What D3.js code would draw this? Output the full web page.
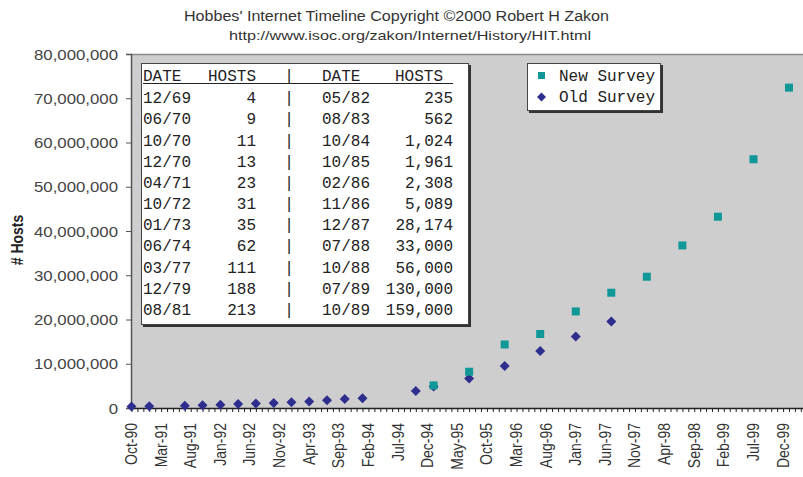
<!DOCTYPE html>
<html><head><meta charset="utf-8">
<script src="https://cdn.jsdelivr.net/npm/d3@7"></script>
<style>body{margin:0;background:#fff}svg{display:block}</style>
</head><body>
<svg id="c" width="803" height="477"></svg>
<script>
// ---- data ----
const titleLines = ["Hobbes' Internet Timeline Copyright \u00A92000 Robert H Zakon", "http://www.isoc.org/zakon/Internet/History/HIT.html"];
const yAxisTitle = "# Hosts";
const seriesNames = ["New Survey", "Old Survey"];
const newDates = ["1995-01","1995-07","1996-01","1996-07","1997-01","1997-07","1998-01","1998-07","1999-01","1999-07","2000-01"];
const newHosts = [5100000,8200000,14352000,16729000,21819000,26053000,29670000,36739000,43230000,56218000,72398000];
const oldDates = ["1990-10","1991-01","1991-07","1991-10","1992-01","1992-04","1992-07","1992-10","1993-01","1993-04","1993-07","1993-10","1994-01","1994-10","1995-01","1995-07","1996-01","1996-07","1997-01","1997-07"];
const oldHosts = [313000,376000,535000,617000,727000,890000,992000,1136000,1313000,1486000,1776000,2056000,2217000,3864000,4852000,6642000,9472000,12881000,16146000,19540000];
const yTicks = [0,10000000,20000000,30000000,40000000,50000000,60000000,70000000,80000000];
const monthNames = ["Jan","Feb","Mar","Apr","May","Jun","Jul","Aug","Sep","Oct","Nov","Dec"];
const tableHeader = ["DATE","HOSTS","|","DATE","HOSTS"];
const tableDates1 = ["12/69","06/70","10/70","12/70","04/71","10/72","01/73","06/74","03/77","12/79","08/81"];
const tableHosts1 = ["4","9","11","13","23","31","35","62","111","188","213"];
const tableDates2 = ["05/82","08/83","10/84","10/85","02/86","11/86","12/87","07/88","10/88","07/89","10/89"];
const tableHosts2 = ["235","562","1,024","1,961","2,308","5,089","28,174","33,000","56,000","130,000","159,000"];

// ---- helpers ----
const monthIndex = s => { const [y,m] = s.split("-").map(Number); return (y-1990)*12 + (m-10); };
const monthLabel = i => { const t = 9 + i; return monthNames[t % 12] + "-" + String((1990 + Math.floor(t/12)) % 100).padStart(2,"0"); };

const svg = d3.select("#c");
const SANS = "'Liberation Sans', Arial, sans-serif";
const MONO = "'Liberation Mono', 'Courier New', monospace";
const TEAL = "#109898", NAVY = "#2e2e8e";

const x = d3.scaleLinear().domain([0,111]).range([131.5,789]);
const y = d3.scaleLinear().domain([0,80000000]).range([408,54]);

// plot background
svg.append("rect").attr("x",131).attr("y",54).attr("width",680).attr("height",354).attr("fill","#cecece");
svg.append("line").attr("x1",131).attr("x2",803).attr("y1",54.5).attr("y2",54.5).attr("stroke","#8a8a8a").attr("stroke-width",1.5);

// title
titleLines.forEach((t,i) => {
  svg.append("text").attr("x", i===0?184:229).attr("y", i===0?21:39.5)
    .attr("textLength", i===0?425:362).attr("lengthAdjust","spacingAndGlyphs")
    .attr("font-family",SANS).attr("font-size", i===0?14:13).attr("fill","#333").text(t);
});

// y axis
const yAxis = svg.append("g").attr("transform","translate(131,0)")
  .call(d3.axisLeft(y).tickValues(yTicks).tickSize(5).tickFormat(d3.format(",")));
yAxis.select(".domain").attr("stroke","#555").attr("stroke-width",1.5);
yAxis.selectAll(".tick line").attr("stroke","#555");
yAxis.selectAll(".tick text").attr("x",null).attr("dy",null)
  .attr("font-family",SANS).attr("font-size",14).attr("fill","#444")
  .attr("text-anchor","end")
  .attr("transform","translate(-13,5) scale(1.2,1)");

svg.append("text").attr("transform","translate(23,240) scale(1.2,1) rotate(-90)")
  .attr("text-anchor","middle").attr("font-family",SANS).attr("font-weight","bold")
  .attr("font-size",14).attr("fill","#222").text(yAxisTitle);

// x axis (monthly ticks, labels every 5 months)
const xMinor = svg.append("g").attr("transform","translate(0,408)")
  .call(d3.axisBottom(x).tickValues(d3.range(0,114)).tickSize(4).tickFormat(""));
xMinor.select(".domain").remove();
xMinor.selectAll(".tick line").attr("stroke","#222");
svg.append("line").attr("x1",131).attr("x2",803).attr("y1",408.5).attr("y2",408.5).attr("stroke","#222").attr("stroke-width",1.5);
const xMajor = svg.append("g").attr("transform","translate(0,408)")
  .call(d3.axisBottom(x).tickValues(d3.range(0,111,5)).tickSize(0).tickFormat(monthLabel));
xMajor.select(".domain").remove();
xMajor.selectAll(".tick text").attr("y",null).attr("dy",null)
  .attr("font-family",SANS).attr("font-size",14).attr("fill","#333")
  .attr("text-anchor","end")
  .attr("transform","translate(5,15) scale(1.2,1) rotate(-90)");

// markers
const newPts = newDates.map((d,i)=>({x:monthIndex(d), v:newHosts[i]}));
const oldPts = oldDates.map((d,i)=>({x:monthIndex(d), v:oldHosts[i]}));
svg.append("g").selectAll("path").data(oldPts).join("path")
  .attr("transform",d=>`translate(${x(d.x)},${y(d.v)})`)
  .attr("d","M0,-5L5,0L0,5L-5,0Z").attr("fill",NAVY);
svg.append("g").selectAll("rect").data(newPts).join("rect")
  .attr("x",d=>x(d.x)-4).attr("y",d=>y(d.v)-4).attr("width",8).attr("height",8).attr("fill",TEAL);

// table box
svg.append("rect").attr("x",143).attr("y",65).attr("width",328).attr("height",262).attr("fill","#333");
svg.append("rect").attr("x",141.5).attr("y",63.5).attr("width",327).attr("height",261).attr("fill","#fff").attr("stroke","#444");
const tbl = svg.append("g").attr("font-family",MONO).attr("font-size",16).attr("fill","#222");
const colX = [143,256,289,322,453];
const colAnchor = ["start","end","middle","start","end"];
tableHeader.forEach((h,i)=>{
  tbl.append("text").attr("x", i===4?443:colX[i]).attr("y",81).attr("text-anchor",colAnchor[i]).text(h);
});
svg.append("line").attr("x1",143).attr("x2",453).attr("y1",83.5).attr("y2",83.5).attr("stroke","#222");
tableDates1.forEach((d,r)=>{
  const yy = 103.3 + r*21.17;
  const row = [d, tableHosts1[r], "|", tableDates2[r], tableHosts2[r]];
  row.forEach((t,i)=> tbl.append("text").attr("x",colX[i]).attr("y",yy).attr("text-anchor",colAnchor[i]).text(t));
});

// legend
svg.append("rect").attr("x",529).attr("y",65).attr("width",134).attr("height",48).attr("fill","#333");
svg.append("rect").attr("x",527.5).attr("y",63.5).attr("width",133).attr("height",47).attr("fill","#fff").attr("stroke","#444");
const lg = svg.append("g").attr("font-family",MONO).attr("font-size",16).attr("fill","#222");
lg.append("rect").attr("x",538).attr("y",72).attr("width",7).attr("height",7).attr("fill",TEAL);
lg.append("text").attr("x",559).attr("y",81).text(seriesNames[0]);
lg.append("path").attr("transform","translate(541.5,97)").attr("d","M0,-4.5L4.5,0L0,4.5L-4.5,0Z").attr("fill",NAVY);
lg.append("text").attr("x",559).attr("y",102).text(seriesNames[1]);
</script>
</body></html>
